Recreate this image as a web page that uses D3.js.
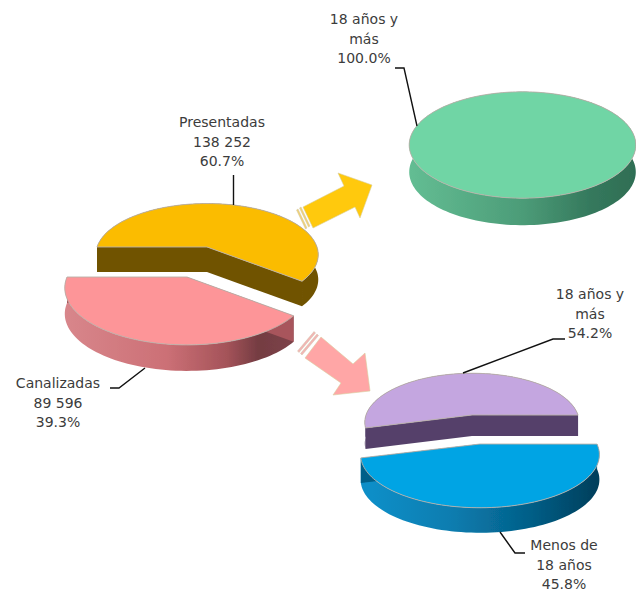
<!DOCTYPE html>
<html><head><meta charset="utf-8">
<script src="https://cdn.jsdelivr.net/npm/d3@7/dist/d3.min.js"></script>
<style>html,body{margin:0;padding:0;background:#fff}svg{display:block}text{font-family:"DejaVu Sans",sans-serif;font-size:14px;fill:#3c3c3c;text-anchor:middle}</style>
</head><body><svg id="c" width="636" height="591"></svg>
<script>
// Data
const mainCategories = ["Presentadas","Canalizadas"];
const mainValues = [138252, 89596];
const mainPercents = ["60.7%","39.3%"];
const mainCounts = ["138 252","89 596"];
const presentedCategories = [["18 años y","más"]];
const presentedValues = [100.0];
const channeledCategories = [["18 años y","más"],["Menos de","18 años"]];
const channeledValues = [54.2, 45.8];

// Layout
const rad = d => d*Math.PI/180;
const svg = d3.select("#c");
const defs = svg.append("defs");
const blur = defs.append("filter").attr("id","soft");
blur.append("feGaussianBlur").attr("stdDeviation",0.45);
const root = svg.append("g").attr("filter","url(#soft)");

function gradient(id, stops, x0, x1){
  const g = defs.append("linearGradient").attr("id",id).attr("gradientUnits","userSpaceOnUse")
    .attr("x1",x0).attr("x2",x1).attr("y1",0).attr("y2",0);
  stops.forEach(s=>g.append("stop").attr("offset",s[0]).attr("stop-color",s[1]));
  return `url(#${id})`;
}

function drawSlice(slice, o){
  const project = (a, drop=0) => {
    const u = Math.sin(a), v = -Math.cos(a), w = 1 - o.k*v;
    return [o.cx + o.rx*u/w, o.cy + o.ry*v/w + drop];
  };
  const apex = [o.cx,o.cy];
  const n = Math.max(8, Math.ceil((slice.endAngle-slice.startAngle)/rad(2)));
  const angles = d3.range(n+1).map(i => slice.startAngle + (slice.endAngle-slice.startAngle)*i/n);
  const line = d3.line();
  const full = slice.endAngle-slice.startAngle > 6.28;
  const topPts = angles.map(a=>project(a));
  const botPts = angles.map(a=>project(a,o.depth)).reverse();
  const g = root.append("g");
  g.append("path").attr("d",line(topPts.concat(botPts))+"Z").attr("fill",o.wall);
  if(!full){
    const drop = p => [p[0],p[1]+o.depth];
    g.append("path").attr("d",line([topPts[0],apex,drop(apex),drop(topPts[0])])+"Z").attr("fill",o.cut);
    g.append("path").attr("d",line([topPts[n],apex,drop(apex),drop(topPts[n])])+"Z").attr("fill",o.cut);
  }
  const surface = full ? topPts : [apex].concat(topPts);
  g.append("path").attr("d",line(surface)+"Z").attr("fill",o.top).attr("stroke","#b9b0a8").attr("stroke-width",0.9);
}

const piesFrom = (values, start) => d3.pie().sort(null).startAngle(rad(start)).endAngle(rad(start+360))(values);

const mainPie = piesFrom(mainValues,-90);
drawSlice(mainPie[0],{cx:207,cy:247,rx:110,ry:50,k:.15,depth:25,top:"#fbbc05",wall:"#6f5200",cut:"#6f5200"});
drawSlice(mainPie[1],{cx:187,cy:277,rx:120,ry:55,k:.19,depth:26,top:"#fd9598",cut:"#a8555c",
  wall:gradient("gp",[[0,"#d8868b"],[.45,"#cc7076"],[.72,"#a45359"],[.86,"#743c42"],[1,"#7c4248"]],65,290)});

const presentedPie = piesFrom(presentedValues,0);
drawSlice(presentedPie[0],{cx:522.5,cy:137,rx:112,ry:52,k:.15,depth:27,top:"#6fd5a5",cut:"#3f8f6c",
  wall:gradient("gg",[[0,"#63bd93"],[.5,"#4c9c78"],[.8,"#35795d"],[1,"#2f6e54"]],410,635)});

const channeledPie = piesFrom(channeledValues,-105);
drawSlice(channeledPie[0],{cx:472,cy:415,rx:106,ry:48,k:.15,depth:21,top:"#c4a6e0",wall:"#54416a",cut:"#54416a"});
drawSlice(channeledPie[1],{cx:480,cy:444,rx:117,ry:51,k:.2,depth:25,top:"#00a4e4",cut:"#045f88",
  wall:gradient("gb",[[0,"#0b8ec7"],[.35,"#0a7db0"],[.7,"#045f88"],[1,"#033f5c"]],372,597)});

// Arrows
const arrowLine = d3.line();
function arrow(pts, stripes, fill, stripeFill){
  const g = root.append("g");
  stripes.forEach(s=>g.append("path").attr("d",arrowLine(s)+"Z").attr("fill",stripeFill).attr("stroke","#cfc7a8").attr("stroke-width",.5));
  g.append("path").attr("d",arrowLine(pts)+"Z").attr("fill",fill).attr("stroke","#d9cf9f").attr("stroke-width",.6);
}
arrow([[303,207],[344,186],[338,173],[372,185],[360,218],[355,207],[313,228]],
  [[[299.5,208],[301,207],[310,226],[308.5,227]],[[296.5,210],[298,209],[307,228],[305.5,229]]],"#ffc90a","#f2d272");
arrow([[321,337],[353,364],[365,353],[370,391],[333,395],[341,383],[305,358]],
  [[[317,334],[318.5,335.5],[302,355],[300.5,353.5]],[[314,331.5],[315.5,333],[299,352.5],[297.5,351]]],"#ffa6a6","#f3b4b4");

// Leaders
const leaders = [
 [[233.5,175],[233.5,205]],
 [[110,388],[119,388],[145,368]],
 [[395,68],[404,68],[417,126]],
 [[463,373],[553,339],[565,339]],
 [[500,532],[515,553],[525,553]]
];
svg.selectAll("path.leader").data(leaders).join("path").attr("class","leader")
  .attr("d",d=>arrowLine(d)).attr("fill","none").attr("stroke","#111").attr("stroke-width",1.4);

// Labels
const labels = [
 {x:222,y:127,lines:[mainCategories[0],mainCounts[0],mainPercents[0]]},
 {x:58,y:388,lines:[mainCategories[1],mainCounts[1],mainPercents[1]]},
 {x:364,y:24,lines:[...presentedCategories[0],presentedValues[0].toFixed(1)+"%"]},
 {x:590,y:299,lines:[...channeledCategories[0],channeledValues[0].toFixed(1)+"%"]},
 {x:564,y:550,lines:[...channeledCategories[1],channeledValues[1].toFixed(1)+"%"]}
];
labels.forEach(l=>{
  const t = svg.append("text");
  l.lines.forEach((s,i)=>t.append("tspan").attr("x",l.x).attr("y",l.y+i*19.5).text(s));
});
</script></body></html>
